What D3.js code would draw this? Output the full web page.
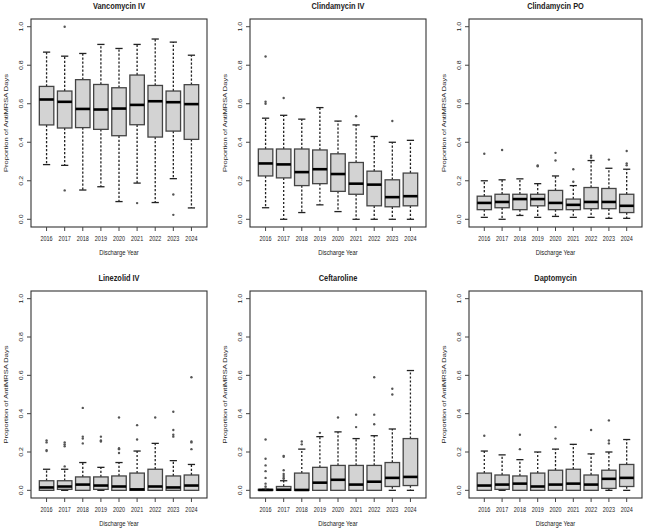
<!DOCTYPE html>
<html><head><meta charset="utf-8">
<script src="https://cdn.jsdelivr.net/npm/d3@7"></script>
<style>body{margin:0;background:#fff}svg{display:block}text{font-family:"Liberation Sans",Arial,sans-serif;fill:#222}</style>
</head><body><svg id="c" width="650" height="532"></svg>
<script>
const years = ["2016","2017","2018","2019","2020","2021","2022","2023","2024"];
const yTicks = [0, 0.2, 0.4, 0.6, 0.8, 1.0];
const titles = ["Vancomycin IV","Clindamycin IV","Clindamycin PO","Linezolid IV","Ceftaroline","Daptomycin"];
// [low whisker, Q1, median, Q3, high whisker]
const vancomycinIV = [[0.284,0.49,0.622,0.69,0.868],[0.28,0.474,0.61,0.666,0.847],[0.152,0.476,0.573,0.725,0.861],[0.169,0.467,0.57,0.70,0.908],[0.092,0.434,0.575,0.683,0.887],[0.188,0.491,0.594,0.749,0.908],[0.087,0.427,0.613,0.695,0.936],[0.211,0.458,0.608,0.666,0.92],[0.059,0.415,0.598,0.699,0.852]];
const vancomycinIVOut = [[],[1.0,0.15],[],[],[],[0.084],[],[0.129,0.023],[]];
const clindamycinIV = [[0.06,0.225,0.29,0.365,0.525],[0.0,0.215,0.285,0.365,0.54],[0.035,0.175,0.245,0.365,0.52],[0.075,0.185,0.26,0.36,0.58],[0.04,0.145,0.235,0.34,0.51],[0.0,0.13,0.185,0.295,0.49],[0.0,0.07,0.18,0.25,0.43],[0.0,0.065,0.115,0.205,0.40],[0.0,0.07,0.12,0.24,0.41]];
const clindamycinIVOut = [[0.845,0.61,0.60],[0.63],[],[],[],[0.535],[],[0.51],[]];
const clindamycinPO = [[0.01,0.05,0.085,0.12,0.20],[0.0,0.06,0.09,0.13,0.205],[0.02,0.05,0.105,0.13,0.21],[0.01,0.07,0.105,0.13,0.185],[0.015,0.05,0.085,0.15,0.225],[0.01,0.05,0.075,0.105,0.175],[0.01,0.055,0.09,0.165,0.305],[0.005,0.055,0.09,0.16,0.265],[0.005,0.035,0.07,0.13,0.26]];
const clindamycinPOOut = [[0.34],[0.36],[],[0.275,0.28],[0.305,0.345],[0.26,0.195],[0.33,0.32],[0.31],[0.355,0.29,0.28]];
const linezolidIV = [[0,0,0.015,0.05,0.11],[0,0.005,0.02,0.05,0.11],[0,0,0.03,0.07,0.145],[0,0.005,0.025,0.07,0.12],[0,0,0.02,0.075,0.145],[0,0,0.005,0.09,0.205],[0,0,0.02,0.11,0.245],[0,0,0.015,0.075,0.155],[0,0,0.025,0.08,0.135]];
const linezolidIVOut = [[0.26,0.25,0.21,0.205],[0.25,0.24,0.23,0.125],[0.43,0.28,0.27,0.245],[0.28,0.26,0.255],[0.38,0.22,0.215,0.195],[0.34,0.265],[0.38],[0.41,0.315,0.29,0.28],[0.59,0.255,0.25,0.215]];
const ceftaroline = [[0,0,0.002,0.005,0.005],[0,0,0.003,0.02,0.05],[0,0,0.002,0.09,0.215],[0,0,0.04,0.12,0.28],[0,0,0.055,0.13,0.305],[0,0,0.03,0.13,0.27],[0,0,0.045,0.13,0.285],[0,0.02,0.065,0.145,0.32],[0,0.025,0.07,0.27,0.625]];
const ceftarolineOut = [[0.265,0.165,0.13,0.1,0.065,0.035,0.02,0.01],[0.18,0.175,0.105,0.085,0.075,0.065,0.06],[0.255,0.24],[0.30],[0.38],[0.395,0.33],[0.59,0.395,0.345],[0.53,0.50],[]];
const daptomycin = [[0,0,0.025,0.09,0.205],[0,0.005,0.03,0.08,0.185],[0,0,0.035,0.075,0.16],[0,0,0.02,0.09,0.20],[0,0,0.03,0.105,0.215],[0,0,0.035,0.11,0.24],[0,0,0.03,0.08,0.19],[0,0.01,0.06,0.105,0.20],[0,0.02,0.065,0.135,0.265]];
const daptomycinOut = [[0.285],[],[0.29,0.215],[],[0.33,0.27],[],[0.315],[0.365,0.26,0.245],[]];

const stats = [vancomycinIV, clindamycinIV, clindamycinPO, linezolidIV, ceftaroline, daptomycin];
const outs = [vancomycinIVOut, clindamycinIVOut, clindamycinPOOut, linezolidIVOut, ceftarolineOut, daptomycinOut];

const colL = [31, 250, 469], colR = [207, 426, 642];
const rowT = [19, 291], rowB = [227, 498];
const SX = 0.78;
const svg = d3.select("#c");

function hText(g, x, y, txt, size, weight) {
  g.append("text").attr("transform", `translate(${x},${y}) scale(${SX},1)`)
    .attr("text-anchor","middle").attr("dominant-baseline","central")
    .style("font-size", size+"px").style("font-weight", weight||"normal").text(txt);
}
function vText(g, x, y, txt, size) {
  g.append("text").attr("transform", `translate(${x},${y}) rotate(-90) scale(1,${SX})`)
    .attr("text-anchor","middle").attr("dominant-baseline","central")
    .style("font-size", size+"px").text(txt);
}

stats.forEach((st, p) => {
  const c = p % 3, r = Math.floor(p / 3);
  const L = colL[c], R = colR[c], T = rowT[r], B = rowB[r];
  const x = d3.scaleLinear().domain([0.14, 9.86]).range([L, R]);
  const y = d3.scaleLinear().domain([-0.04, 1.04]).range([B, T]);
  const g = svg.append("g");
  const bw = (x(1.4) - x(1));
  const cap = bw / 2;
  st.forEach((s, i) => {
    const cx = x(i + 1);
    const [lo, q1, md, q3, hi] = s;
    g.append("line").attr("x1",cx).attr("x2",cx).attr("y1",y(q3)).attr("y2",y(hi))
      .attr("stroke","#222").attr("stroke-width",1.3).attr("stroke-dasharray","2.2,1.8");
    g.append("line").attr("x1",cx).attr("x2",cx).attr("y1",y(q1)).attr("y2",y(lo))
      .attr("stroke","#222").attr("stroke-width",1.3).attr("stroke-dasharray","2.2,1.8");
    g.append("line").attr("x1",cx-cap).attr("x2",cx+cap).attr("y1",y(hi)).attr("y2",y(hi))
      .attr("stroke","#222").attr("stroke-width",1.3);
    g.append("line").attr("x1",cx-cap).attr("x2",cx+cap).attr("y1",y(lo)).attr("y2",y(lo))
      .attr("stroke","#222").attr("stroke-width",1.3);
    g.append("rect").attr("x",cx-bw).attr("width",2*bw).attr("y",y(q3)).attr("height",Math.max(0.5,y(q1)-y(q3)))
      .attr("fill","#d3d3d3").attr("stroke","#444").attr("stroke-width",1.3);
    g.append("line").attr("x1",cx-bw).attr("x2",cx+bw).attr("y1",y(md)).attr("y2",y(md))
      .attr("stroke","#000").attr("stroke-width",2.6);
    outs[p][i].forEach(v => {
      g.append("circle").attr("cx",cx).attr("cy",y(v)).attr("r",1.2).attr("fill","#555");
    });
  });
  g.append("rect").attr("x",L).attr("y",T).attr("width",R-L).attr("height",B-T)
    .attr("fill","none").attr("stroke","#333").attr("stroke-width",1.1);
  yTicks.forEach(t => {
    g.append("line").attr("x1",L-4).attr("x2",L).attr("y1",y(t)).attr("y2",y(t)).attr("stroke","#444");
    vText(g, L-10, y(t), d3.format(".1f")(t), 7);
  });
  years.forEach((yr, i) => {
    const cx = x(i + 1);
    g.append("line").attr("x1",cx).attr("x2",cx).attr("y1",B).attr("y2",B+4).attr("stroke","#444");
    hText(g, cx, B + 11, yr, 7);
  });
  hText(g, (L+R)/2, B + 25, "Discharge Year", 7.5);
  vText(g, L - 25, (T+B)/2, "Proportion of AntiMRSA Days", 7.5);
  hText(g, (L+R)/2, T - 13, titles[p], 9.5, "bold");
});
</script></body></html>
